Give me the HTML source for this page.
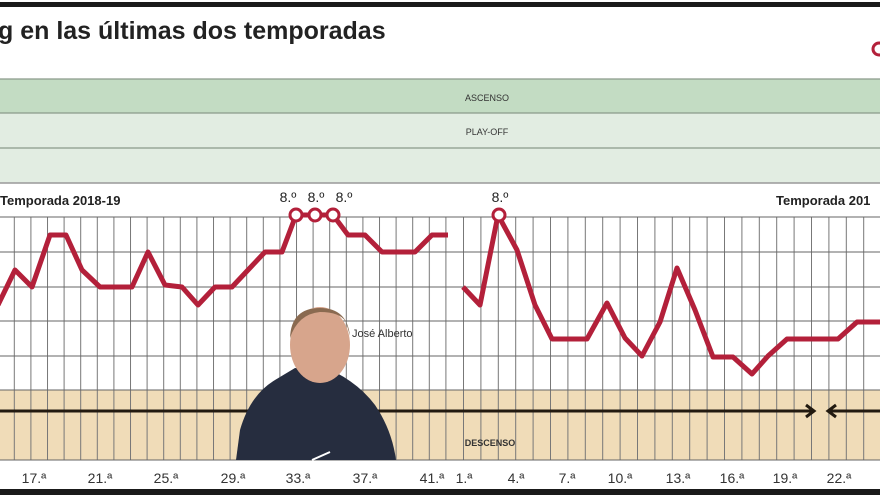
<!DOCTYPE html>
<html><head><meta charset="utf-8"><style>
html,body{margin:0;padding:0;background:#fff;width:880px;height:495px;overflow:hidden}
svg{display:block;font-family:"Liberation Sans",sans-serif}
</style></head><body>
<svg width="880" height="495" viewBox="0 0 880 495" xmlns="http://www.w3.org/2000/svg">
<defs>
<pattern id="v1" x="13.8" y="0" width="16.6" height="495" patternUnits="userSpaceOnUse"><rect x="0" y="0" width="1" height="495" fill="#777"/></pattern>
<pattern id="v2" x="463" y="0" width="17.4" height="495" patternUnits="userSpaceOnUse"><rect x="0" y="0" width="1" height="495" fill="#777"/></pattern>
</defs>
<rect x="0" y="0" width="880" height="495" fill="#fff"/>
<rect x="0" y="2" width="880" height="5" fill="#1a1a1a"/>
<text x="-2" y="39" font-size="25" font-weight="bold" fill="#222">g en las últimas dos temporadas</text>
<circle cx="879" cy="49" r="6" fill="none" stroke="#b3203a" stroke-width="3"/>
<rect x="0" y="79" width="880" height="34" fill="#c3dcc3"/>
<rect x="0" y="113" width="880" height="70" fill="#e2ede2"/>
<g stroke="#8a9a8a" stroke-width="1.2">
<line x1="0" y1="79" x2="880" y2="79"/><line x1="0" y1="113" x2="880" y2="113"/><line x1="0" y1="148" x2="880" y2="148"/>
</g>
<line x1="0" y1="183" x2="880" y2="183" stroke="#999" stroke-width="1.5"/>
<text x="487" y="101" font-size="9" fill="#333" text-anchor="middle">ASCENSO</text>
<text x="487" y="135" font-size="9" fill="#333" text-anchor="middle">PLAY-OFF</text>
<rect x="0" y="390" width="880" height="70" fill="#f0dcb8"/>
<rect x="0" y="217" width="449" height="243" fill="url(#v1)"/>
<rect x="455" y="217" width="425" height="243" fill="url(#v2)"/>
<g stroke="#666" stroke-width="1">
<line x1="0" y1="217" x2="880" y2="217"/><line x1="0" y1="252" x2="880" y2="252"/><line x1="0" y1="287" x2="880" y2="287"/>
<line x1="0" y1="321" x2="880" y2="321"/><line x1="0" y1="356" x2="880" y2="356"/><line x1="0" y1="390" x2="880" y2="390"/>
<line x1="0" y1="460" x2="880" y2="460"/>
</g>
<g stroke="#221a10" stroke-width="3" fill="none">
<line x1="0" y1="411" x2="814" y2="411"/><polyline points="806,405 814,411 806,417"/>
<line x1="828" y1="411" x2="880" y2="411"/><polyline points="836,405 828,411 836,417"/>
</g>
<text x="490" y="446" font-size="9" font-weight="bold" fill="#333" text-anchor="middle">DESCENSO</text>
<text x="0" y="205" font-size="13" font-weight="bold" fill="#222">Temporada 2018-19</text>
<text x="776" y="205" font-size="13" font-weight="bold" fill="#222">Temporada 201</text>
<g>
<path d="M236,460 L240,430 Q250,395 275,380 L295,368 L335,372 Q360,385 375,405 Q392,430 396,460 Z" fill="#262d3f"/>
<ellipse cx="320" cy="345" rx="30" ry="38" fill="#d7a58c"/>
<path d="M290,338 Q291,308 320,308 Q347,308 350,336 L346,322 Q340,312 320,312 Q298,314 290,338Z" fill="#8a6a50"/>
<path d="M312,460 L330,452" stroke="#fff" stroke-width="2"/>
</g>
<text x="352" y="337" font-size="11" fill="#333">José Alberto</text>
<g fill="none" stroke="#b3203a" stroke-width="5" stroke-linejoin="round">
<polyline points="-2,305 15,270 32,287 50,235 66,235 82,270 100,287 132,287 148,252 165,285 182,287 198,305 215,287 232,287 248,270 265,252 282,252 296,215 315,215 333,215 348,235 365,235 382,252 415,252 432,235 448,235"/>
<polyline points="463,287 480,305 498,215 517,250 535,305 552,339 587,339 607,303 625,338 642,356 660,322 677,268 695,310 713,357 733,357 752,374 768,356 787,339 838,339 857,322 880,322"/>
</g>
<g fill="#fff" stroke="#b3203a" stroke-width="3">
<circle cx="296" cy="215" r="6"/><circle cx="315" cy="215" r="6"/><circle cx="333" cy="215" r="6"/><circle cx="499" cy="215" r="6"/>
</g>
<g font-size="14" fill="#222" text-anchor="middle">
<text x="288" y="202">8.º</text><text x="316" y="202">8.º</text><text x="344" y="202">8.º</text><text x="500" y="202">8.º</text>
</g>
<g font-size="14" fill="#333" text-anchor="middle">
<text x="34" y="483">17.ª</text><text x="100" y="483">21.ª</text><text x="166" y="483">25.ª</text><text x="233" y="483">29.ª</text>
<text x="298" y="483">33.ª</text><text x="365" y="483">37.ª</text><text x="432" y="483">41.ª</text>
<text x="464" y="483">1.ª</text><text x="516" y="483">4.ª</text><text x="567" y="483">7.ª</text><text x="620" y="483">10.ª</text>
<text x="678" y="483">13.ª</text><text x="732" y="483">16.ª</text><text x="785" y="483">19.ª</text><text x="839" y="483">22.ª</text>
</g>
<rect x="0" y="489" width="880" height="6" fill="#1a1a1a"/>
</svg>
</body></html>
